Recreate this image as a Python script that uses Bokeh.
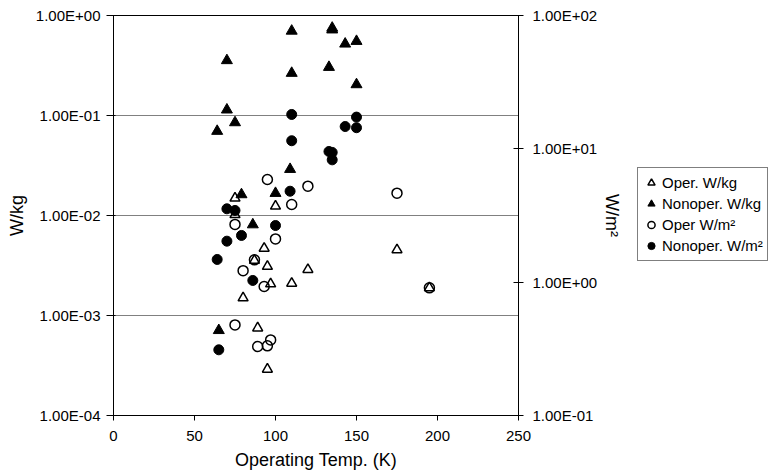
from bokeh.plotting import figure
from bokeh.layouts import row
from bokeh.models import (Range1d, LogScale, LogAxis, FixedTicker,
                          CustomJSTickFormatter, Legend, LegendItem)
from bokeh.embed import file_html
from bokeh.resources import INLINE

# ---- data ----
oper_kg_x = [75, 75, 100, 93, 87, 95, 97, 110, 80, 89, 95, 175, 120, 195]
oper_kg_y = [0.0149, 0.0102, 0.0124, 0.0047, 0.00355, 0.0031, 0.00207, 0.0021,
             0.0015, 0.00075, 0.00029, 0.00454, 0.00288, 0.00189]

nonoper_kg_x = [110, 70, 110, 70, 75, 64, 109, 79, 100, 86, 65, 135, 135, 143, 150, 133, 150]
nonoper_kg_y = [0.70, 0.355, 0.265, 0.114, 0.085, 0.0697, 0.029, 0.0162, 0.0167, 0.0081,
                0.00071, 0.75, 0.72, 0.52, 0.553, 0.304, 0.204]

oper_m2_x = [95, 110, 75, 100, 87, 80, 93, 75, 89, 95, 97, 120, 175, 195]
oper_m2_y = [5.89, 3.82, 2.71, 2.11, 1.47, 1.22, 0.928, 0.478, 0.329, 0.333, 0.369,
             5.25, 4.65, 0.907]

nonoper_m2_x = [110, 110, 109, 70, 75, 100, 79, 70, 64, 86, 65, 150, 143, 150, 133, 135, 135]
nonoper_m2_y = [18.1, 11.5, 4.81, 3.55, 3.45, 2.66, 2.24, 2.03, 1.48, 1.03, 0.311,
                17.3, 14.7, 14.4, 9.55, 9.4, 8.27]

x_ticks = [0, 50, 100, 150, 200, 250]
left_ticks = [1e-4, 1e-3, 1e-2, 1e-1, 1e0]
right_ticks = [1e-1, 1e0, 1e1, 1e2]

series_labels = ["Oper. W/kg", "Nonoper. W/kg", "Oper W/m²", "Nonoper. W/m²"]
series_x = [oper_kg_x, nonoper_kg_x, oper_m2_x, nonoper_m2_x]
series_y = [oper_kg_y, nonoper_kg_y, oper_m2_y, nonoper_m2_y]

FONT = "Liberation Sans"

fmt = CustomJSTickFormatter(code="""
const s = tick.toExponential(2).toUpperCase().split("E");
const e = parseInt(s[1]);
const a = Math.abs(e);
return s[0] + "E" + (e < 0 ? "-" : "+") + (a < 10 ? "0" : "") + a;
""")

p = figure(width=630, height=473, output_backend="svg", toolbar_location=None,
           y_axis_type="log", x_range=Range1d(0, 250), y_range=Range1d(1e-4, 1),
           min_border_left=113, min_border_right=112, min_border_top=15,
           min_border_bottom=58)
p.background_fill_color = "white"
p.border_fill_color = "white"
p.outline_line_color = "black"
p.outline_line_width = 1

p.extra_y_ranges = {"r": Range1d(0.1, 100)}
p.extra_y_scales = {"r": LogScale()}
rax = LogAxis(y_range_name="r")
p.add_layout(rax, "right")

for ax in [p.xaxis[0], p.yaxis[0], rax]:
    ax.axis_line_color = "black"
    ax.major_tick_line_color = "black"
    ax.minor_tick_line_color = None
    ax.major_label_text_font = FONT
    ax.major_label_text_font_size = "15px"
    ax.major_label_text_color = "black"
    ax.axis_label_text_font = FONT
    ax.axis_label_text_font_size = "18px"
    ax.axis_label_text_font_style = "normal"
    ax.axis_label_text_color = "black"

p.xaxis.ticker = FixedTicker(ticks=x_ticks)
p.xaxis.major_tick_out = 5
p.xaxis.major_tick_in = 0
p.xaxis.major_label_standoff = 10
p.xaxis.axis_label = "Operating Temp. (K)"
p.xaxis.axis_label_standoff = 6

p.yaxis[0].ticker = FixedTicker(ticks=left_ticks)
p.yaxis[0].formatter = fmt
p.yaxis[0].major_tick_out = 7
p.yaxis[0].major_tick_in = 2
p.yaxis[0].major_label_standoff = 6
p.yaxis[0].axis_label = "W/kg"
p.yaxis[0].axis_label_standoff = 6

rax.ticker = FixedTicker(ticks=right_ticks)
rax.formatter = fmt
rax.major_tick_out = 5
rax.major_tick_in = 5
rax.major_label_standoff = 9
rax.axis_label = "W/m²"
rax.axis_label_standoff = 2

p.xgrid.visible = False
p.ygrid.ticker = FixedTicker(ticks=left_ticks)
p.ygrid.grid_line_color = "#808080"
p.ygrid.grid_line_width = 1

styles = [
    dict(marker="triangle", size=10, fill_color=None, line_color="black", line_width=1.5),
    dict(marker="triangle", size=11, fill_color="black", line_color="black", line_width=1),
    dict(marker="circle", size=10, fill_color=None, line_color="black", line_width=1.5),
    dict(marker="circle", size=10, fill_color="black", line_color="black", line_width=1),
]
ranges = [None, None, "r", "r"]

for xs, ys, st, rn in zip(series_x, series_y, styles, ranges):
    if rn:
        p.scatter(xs, ys, y_range_name=rn, **st)
    else:
        p.scatter(xs, ys, **st)

# ---- legend panel (separate figure beside the chart) ----
# its ranges lie far from the data, so only the legend keys are drawn
lg = figure(width=143, height=473, output_backend="svg", toolbar_location=None,
            x_range=Range1d(1000, 1001), y_range=Range1d(1000, 1001),
            x_axis_location=None, y_axis_location=None,
            min_border=0)
lg.grid.visible = False
lg.outline_line_color = None
lg.background_fill_color = "white"
lg.border_fill_color = "white"

items = []
for lab, xs, ys, st in zip(series_labels, series_x, series_y, styles):
    rr = lg.scatter(xs, ys, **st)
    items.append(LegendItem(label=lab, renderers=[rr]))

legend = Legend(items=items, location=(7, 154))
legend.border_line_color = "black"
legend.border_line_width = 1
legend.background_fill_color = "white"
legend.background_fill_alpha = 1
legend.label_text_font = FONT
legend.label_text_font_size = "15px"
legend.label_text_color = "black"
legend.padding = 4
legend.spacing = 0
legend.margin = 0
legend.glyph_width = 18
legend.glyph_height = 21
legend.label_height = 21
legend.label_standoff = 2
lg.add_layout(legend, "center")

layout = row(p, lg, spacing=0)
open("out.html", "w").write(file_html(layout, INLINE))
